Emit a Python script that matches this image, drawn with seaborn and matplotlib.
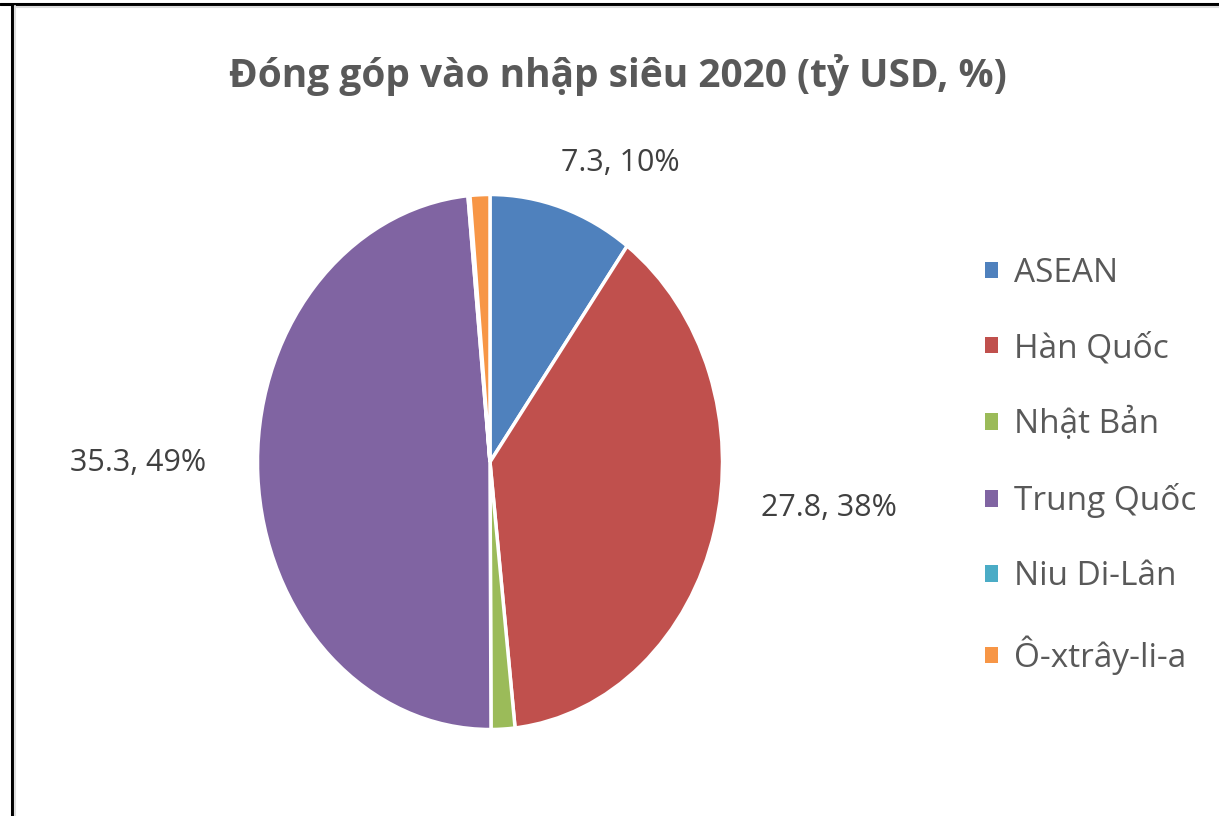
import matplotlib
matplotlib.use("Agg")
import matplotlib.pyplot as plt
import matplotlib.patches as mpatches
from matplotlib.lines import Line2D
import numpy as np
import seaborn as sns

# ---- data ----
categories = ["ASEAN", "Hàn Quốc", "Nhật Bản", "Trung Quốc", "Niu Di-Lân", "Ô-xtrây-li-a"]
values = [7.3, 27.8, 1.2, 35.3, 0.1, 1.0]
label_texts = ["7.3, 10%", "27.8, 38%", "", "35.3, 49%", "", ""]
colors = ["#4F81BD", "#C0504D", "#9BBB59", "#8064A2", "#4BACC6", "#F79646"]
title = "Đóng góp vào nhập siêu 2020 (tỷ USD, %)"

# label offsets (points) from the wedge edge midpoint
label_offsets = [(42, 32), (82, 17), (0, 0), (-86, 9), (0, 0), (0, 0)]

sns.set_theme(style="white")
plt.rcParams["font.family"] = ["Open Sans", "DejaVu Sans"]

W, H = 1219, 816
fig = plt.figure(figsize=(W / 100, H / 100), dpi=100)
fig.patch.set_facecolor("white")

# pie axes (elliptical pie)
cx, cy, rx, ry = 490, 462, 232.5, 267.5
lim = 1.2
ax_w, ax_h = 2 * lim * rx, 2 * lim * ry
ax = fig.add_axes([(cx - ax_w / 2) / W, (H - cy - ax_h / 2) / H, ax_w / W, ax_h / H])

wedges, _ = ax.pie(values, colors=colors, startangle=90, counterclock=False,
                   wedgeprops=dict(edgecolor="white", linewidth=2.5))
ax.set_aspect("auto")
ax.set_xlim(-lim, lim)
ax.set_ylim(-lim, lim)
ax.axis("off")

for w, txt, off in zip(wedges, label_texts, label_offsets):
    if not txt:
        continue
    ang = np.deg2rad((w.theta1 + w.theta2) / 2)
    ax.annotate(txt, xy=(np.cos(ang), np.sin(ang)), xytext=off,
                textcoords="offset points", ha="center", va="center",
                fontsize=22, color="#404040")

# title
fig.text(618 / W, 1 - 75 / H, title, ha="center", va="center",
         fontsize=28, fontweight="bold", color="#595959")

# legend
handles = [mpatches.Patch(facecolor=c, edgecolor="none") for c in colors]
leg = fig.legend(handles, categories, loc="center left",
                 bbox_to_anchor=(955 / W, 1 - 466 / H), frameon=False,
                 fontsize=24, handlelength=0.38, handleheight=0.38,
                 handletextpad=0.5, labelspacing=1.26, borderpad=0.4)
for t in leg.get_texts():
    t.set_color("#595959")

# frame lines
fig.add_artist(Line2D([12 / W, 12 / W], [0, 1 - 4 / H], color="black", lw=2.2,
                      transform=fig.transFigure))
fig.add_artist(Line2D([0, 1], [1 - 4 / H, 1 - 4 / H], color="black", lw=2.2,
                      transform=fig.transFigure))
fig.add_artist(Line2D([15 / W, 15 / W], [0, 1 - 6 / H], color="#dddddd", lw=1.5,
                      transform=fig.transFigure))
fig.add_artist(Line2D([15 / W, 1], [1 - 7 / H, 1 - 7 / H], color="#dddddd", lw=1.5,
                      transform=fig.transFigure))

fig.savefig("out.png", dpi=100, facecolor="white")
